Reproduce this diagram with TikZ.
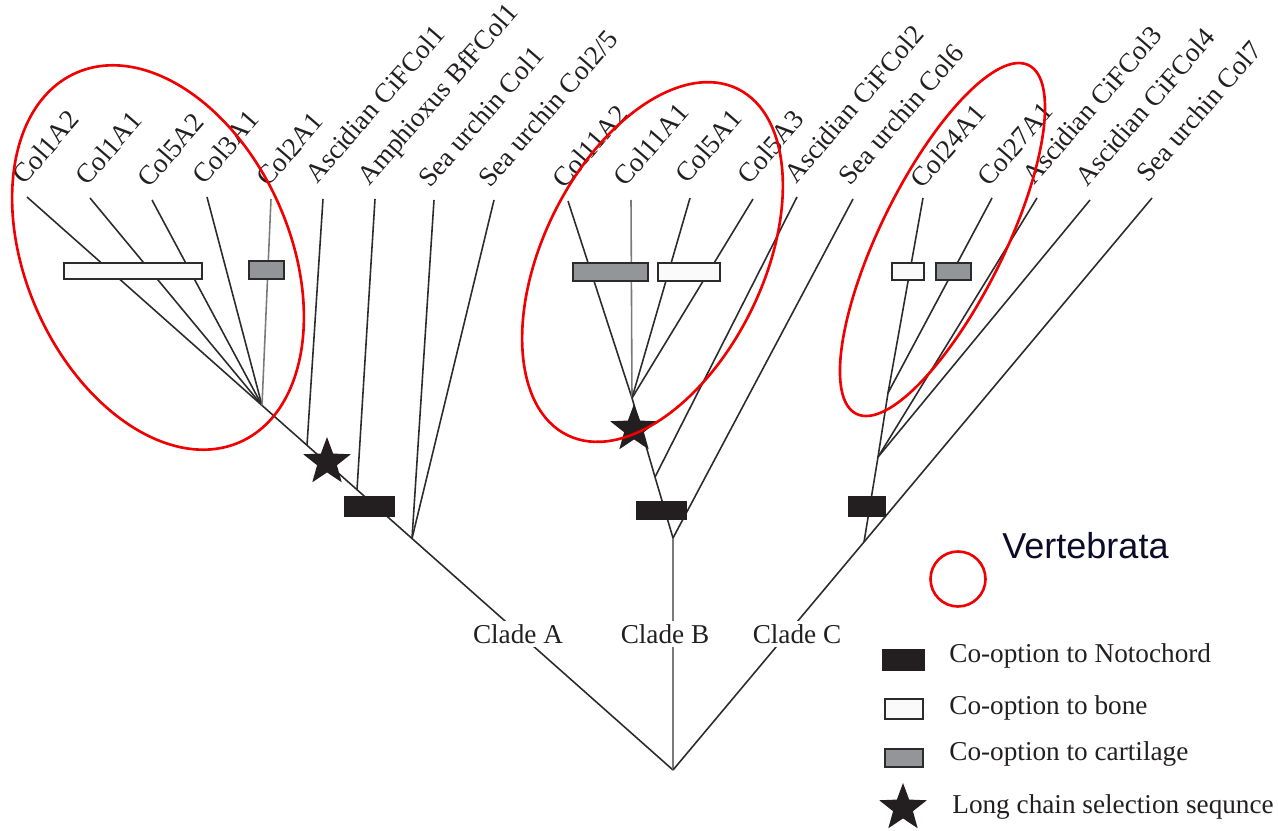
\documentclass[tikz,border=0pt]{standalone}
\usepackage{fontspec}
\setmainfont{Liberation Serif}
\newfontfamily\vsans{Liberation Sans}
\usetikzlibrary{shapes.geometric}
\definecolor{lin}{HTML}{2B2B2B}
\definecolor{lgray}{HTML}{7A7A7A}
\definecolor{boxgray}{HTML}{939598}
\definecolor{boxblack}{HTML}{231F20}
\definecolor{txt}{HTML}{231F20}
\definecolor{navy}{RGB}{12,12,40}
\definecolor{vred}{RGB}{240,0,0}
\begin{document}
\begin{tikzpicture}[x=0.02cm,y=-0.02cm,
  font=\fontsize{15.5}{18}\selectfont,
  branch/.style={draw=lin, line width=0.9pt},
  lbranch/.style={draw=lgray, line width=0.9pt},
  taxon/.style={rotate=49, anchor=base west, inner sep=0pt, text=txt},
  cladelbl/.style={fill=white, anchor=base, inner sep=2pt, text=txt},
  legtext/.style={anchor=base west, inner sep=0pt, text=txt},
  bonebox/.style={rectangle, draw=lin, fill=white!98!black, line width=0.8pt, inner sep=0pt},
  cartbox/.style={rectangle, draw=lin, fill=boxgray, line width=0.8pt, inner sep=0pt},
  notobox/.style={rectangle, draw=none, fill=boxblack, inner sep=0pt},
  starsym/.style={star, star points=5, star point ratio=2.4, minimum size=1cm, inner sep=0pt, fill=boxblack, draw=none},
  vert/.style={draw=vred, line width=1.5pt}
]
\useasboundingbox (0,0) rectangle (1278,831);

% ---- coordinates
\coordinate (root) at (673,770);
% clade A
\coordinate (jA1) at (262,405.4);
\coordinate (jA2) at (307,445.3);
\coordinate (jA3) at (357,489.7);
\coordinate (jA4) at (412,538.5);
\coordinate (tA1) at (27,197);
\coordinate (tA2) at (90,198);
\coordinate (tA3) at (152,200);
\coordinate (tA4) at (207,197);
\coordinate (tA5) at (271,199);
\coordinate (tA6) at (323,199);
\coordinate (tA7) at (375,199);
\coordinate (tA8) at (434,200);
\coordinate (tA9) at (494,200);
% clade B
\coordinate (jB0) at (673,538);
\coordinate (jB1) at (655,477);
\coordinate (jB2) at (632,398);
\coordinate (tB1) at (568,201);
\coordinate (tB2) at (631,200);
\coordinate (tB3) at (690,198);
\coordinate (tB4) at (753,199);
\coordinate (tB5) at (797,197);
\coordinate (tB6) at (853,199);
% clade C
\coordinate (jC0) at (864,542);
\coordinate (jC1) at (878,457);
\coordinate (jC2) at (888,393);
\coordinate (tC1) at (923,198);
\coordinate (tC2) at (992,198);
\coordinate (tC3) at (1037,198);
\coordinate (tC4) at (1090,200);
\coordinate (tC5) at (1152,198);

% ---- branches clade A
\draw[branch] (root) -- (jA4) -- (jA3) -- (jA2) -- (jA1) -- (tA1);
\draw[branch] (jA1) -- (tA2);
\draw[branch] (jA1) -- (tA3);
\draw[branch] (jA1) -- (tA4);
\draw[lbranch] (jA1) -- (tA5);
\draw[branch] (jA2) -- (tA6);
\draw[branch] (jA3) -- (tA7);
\draw[branch] (jA4) -- (tA8);
\draw[branch] (jA4) -- (tA9);
% clade B
\draw[lbranch] (root) -- (jB0);
\draw[branch] (jB0) -- (jB1) -- (jB2);
\draw[branch] (jB0) -- (tB6);
\draw[branch] (jB1) -- (tB5);
\draw[branch] (jB2) -- (tB1);
\draw[lbranch] (jB2) -- (tB2);
\draw[branch] (jB2) -- (tB3);
\draw[branch] (jB2) -- (tB4);
% clade C
\draw[branch] (root) -- (jC0) -- (tC5);
\draw[branch] (jC0) -- (jC1) -- (jC2);
\draw[branch] (jC1) -- (tC3);
\draw[branch] (jC1) -- (tC4);
\draw[branch] (jC2) -- (tC1);
\draw[branch] (jC2) -- (tC2);

% ---- boxes
\node[bonebox, minimum width=2.76cm, minimum height=0.32cm] (bA) at (133,271) {};
\node[cartbox, minimum width=0.70cm, minimum height=0.36cm] (cA) at (266.5,270) {};
\node[cartbox, minimum width=1.50cm, minimum height=0.36cm] (cB) at (610.5,272) {};
\node[bonebox, minimum width=1.24cm, minimum height=0.36cm] (bB) at (689,272) {};
\node[bonebox, minimum width=0.64cm, minimum height=0.34cm] (bC) at (908,271.5) {};
\node[cartbox, minimum width=0.70cm, minimum height=0.34cm] (cC) at (953.5,271.5) {};
\node[notobox, minimum width=1.02cm, minimum height=0.41cm] (nA) at (369.5,506.5) {};
\node[notobox, minimum width=1.02cm, minimum height=0.38cm] (nB) at (661.5,510) {};
\node[notobox, minimum width=0.76cm, minimum height=0.41cm] (nC) at (867,506.5) {};

% ---- stars
\node[starsym] (sA) at (327,462) {};
\node[starsym] (sB) at (634,429) {};

% ---- taxon labels
\node[taxon] (lA1) at ([shift={(-3,-11)}]tA1) {Col1A2};
\node[taxon] (lA2) at ([shift={(-3,-11)}]tA2) {Col1A1};
\node[taxon] (lA3) at ([shift={(-3,-11)}]tA3) {Col5A2};
\node[taxon] (lA4) at ([shift={(-3,-11)}]tA4) {Col3A1};
\node[taxon] (lA5) at ([shift={(-3,-11)}]tA5) {Col2A1};
\node[taxon] (lA6) at ([shift={(-6,-14)}]tA6) {Ascidian CiFCol1};
\node[taxon] (lA7) at ([shift={(-6,-12)}]tA7) {Amphioxus BfFCol1};
\node[taxon] (lA8) at ([shift={(-4,-11)}]tA8) {Sea urchin Col1};
\node[taxon] (lA9) at ([shift={(-4,-11)}]tA9) {Sea urchin Col2/5};
\node[taxon] (lB1) at ([shift={(-4,-11)}]tB1) {Col11A2};
\node[taxon] (lB2) at ([shift={(-6,-12)}]tB2) {Col11A1};
\node[taxon] (lB3) at ([shift={(-3,-13)}]tB3) {Col5A1};
\node[taxon] (lB4) at ([shift={(-4,-13)}]tB4) {Col5A3};
\node[taxon] (lB5) at ([shift={(-1,-12)}]tB5) {Ascidian CiFCol2};
\node[taxon] (lB6) at ([shift={(-3,-12)}]tB6) {Sea urchin Col6};
\node[taxon] (lC1) at ([shift={(-1,-8)}]tC1) {Col24A1};
\node[taxon] (lC2) at ([shift={(-3,-10)}]tC2) {Col27A1};
\node[taxon] (lC3) at ([shift={(-3,-12)}]tC3) {Ascidian CiFCol3};
\node[taxon] (lC4) at ([shift={(-3,-12)}]tC4) {Ascidian CiFCol4};
\node[taxon] (lC5) at ([shift={(-4,-14)}]tC5) {Sea urchin Col7};

% ---- clade labels
\node[cladelbl] (cladeA) at (518,643) {Clade A};
\node[cladelbl] (cladeB) at (665,643) {Clade B};
\node[cladelbl] (cladeC) at (797,643) {Clade C};

% ---- Vertebrata ellipses
\coordinate (eA) at (158,257.5);
\coordinate (eB) at (652.5,262);
\coordinate (eC) at (942.5,239.5);
\draw[vert, rotate around={-66:(eA)}] (eA) ellipse [x radius=4.04cm, y radius=2.64cm];
\draw[vert, rotate around={63.8:(eB)}] (eB) ellipse [x radius=3.86cm, y radius=2.2cm];
\draw[vert, rotate around={63.7:(eC)}] (eC) ellipse [x radius=3.89cm, y radius=1.24cm];

% ---- legend
\node[circle, draw=vred, line width=1.5pt, minimum size=1.1cm, inner sep=0pt] (kV) at (958,579) {};
\node[anchor=base west, inner sep=0pt, font=\vsans\fontsize{20.5}{24}\selectfont, text=navy] (tV) at (1002,558) {Vertebrata};
\node[notobox, minimum width=0.86cm, minimum height=0.44cm] (kN) at (903.5,660) {};
\node[legtext] (tN) at (949,662) {Co-option to Notochord};
\node[bonebox, minimum width=0.76cm, minimum height=0.40cm] (kB) at (904,709) {};
\node[legtext] (tB) at (949,714) {Co-option to bone};
\node[cartbox, minimum width=0.76cm, minimum height=0.36cm] (kC) at (904,758) {};
\node[legtext] (tC) at (949,760) {Co-option to cartilage};
\node[starsym] (kS) at (903,808) {};
\node[legtext] (tS) at (952,813) {Long chain selection sequnce};
\end{tikzpicture}
\end{document}
